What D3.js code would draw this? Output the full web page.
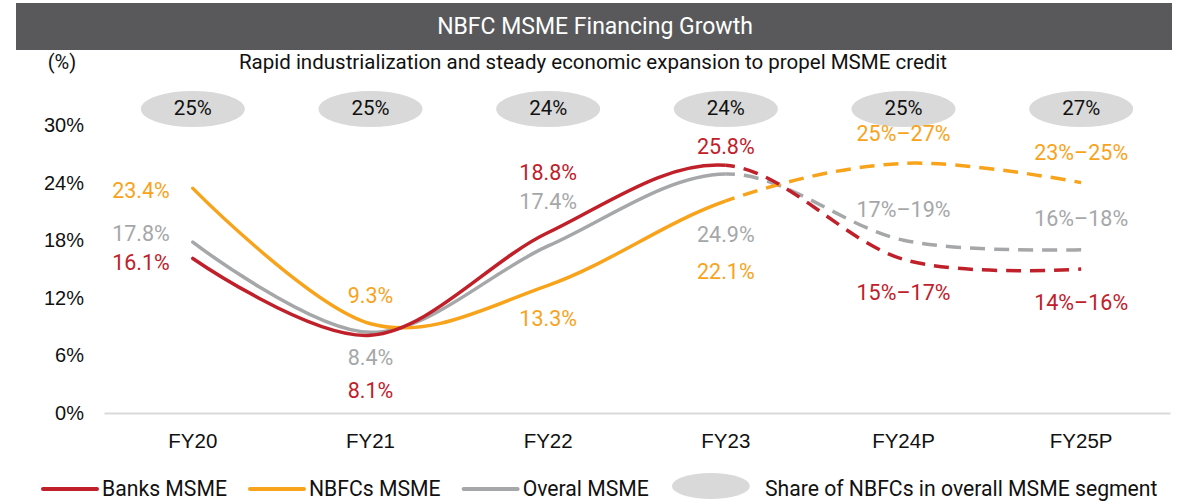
<!DOCTYPE html>
<html>
<head>
<meta charset="utf-8">
<script src="https://cdn.jsdelivr.net/npm/d3@7"></script>
<style>
  html, body { margin: 0; padding: 0; background: #fff; }
  svg { display: block; font-family: Roboto, "Noto Sans", sans-serif; }
</style>
</head>
<body>
<svg id="chart" width="1178" height="504"></svg>
<script>
// data
const years = ['FY20', 'FY21', 'FY22', 'FY23', 'FY24P', 'FY25P'];
const banks = [16.1, 8.1, 18.8, 25.8, 16, 15];
const nbfcs = [23.4, 9.3, 13.3, 22.1, 26, 24];
const overall = [17.8, 8.4, 17.4, 24.9, 18, 17];
const nbfcShare = ['25%', '25%', '24%', '24%', '25%', '27%'];
const banksLabels = ['16.1%', '8.1%', '18.8%', '25.8%', '15%\u201317%', '14%\u201316%'];
const nbfcsLabels = ['23.4%', '9.3%', '13.3%', '22.1%', '25%\u201327%', '23%\u201325%'];
const overallLabels = ['17.8%', '8.4%', '17.4%', '24.9%', '17%\u201319%', '16%\u201318%'];
const yTicks = [0, 6, 12, 18, 24, 30];
const lastActual = 'FY23'; // projections after it

const svg = d3.select('#chart'),
  width = +svg.attr('width'),
  height = +svg.attr('height');

const colors = { banks: '#c0202a', nbfcs: '#f8a31c', overall: '#a6a7a9' };

const x = d3.scaleBand().domain(years).range([104, 1170]);
const y = d3.scaleLinear().domain([0, 30]).range([413, 125]);
const cx = d => x(d) + x.bandwidth() / 2;
const splitX = cx(lastActual);

// title bar
svg.append('rect')
  .attr('x', 16).attr('y', 3)
  .attr('width', 1156).attr('height', 47)
  .attr('fill', '#59595b');
svg.append('text')
  .attr('x', 595).attr('y', 26)
  .attr('text-anchor', 'middle').attr('dominant-baseline', 'central')
  .attr('fill', '#fff').style('font-size', '23px')
  .text('NBFC MSME Financing Growth');
svg.append('text')
  .attr('x', 593).attr('y', 62)
  .attr('text-anchor', 'middle').attr('dominant-baseline', 'central')
  .attr('fill', '#111').style('font-size', '20.5px')
  .text('Rapid industrialization and steady economic expansion to propel MSME credit');
svg.append('text')
  .attr('x', 62).attr('y', 62)
  .attr('text-anchor', 'middle').attr('dominant-baseline', 'central')
  .attr('fill', '#111').style('font-size', '20px')
  .text('(%)');

// y axis (labels only)
const yAxis = svg.append('g')
  .attr('transform', 'translate(84,0)')
  .call(d3.axisLeft(y).tickValues(yTicks).tickSize(0).tickPadding(0).tickFormat(d => d + '%'));
yAxis.select('.domain').remove();
yAxis.selectAll('text').style('font-size', '20px').attr('fill', '#111').attr('font-family', null);

// x axis
const xAxis = svg.append('g')
  .attr('transform', 'translate(0,413)')
  .call(d3.axisBottom(x).tickSize(0).tickPadding(20));
xAxis.select('.domain').attr('stroke', '#d9d9d9').attr('stroke-width', 2);
xAxis.selectAll('text').style('font-size', '20.5px').attr('fill', '#111').attr('font-family', null);

// share ellipses
const share = svg.append('g').selectAll('g')
  .data(years)
  .enter()
  .append('g')
  .attr('transform', d => `translate(${cx(d)},109)`);
share.append('ellipse').attr('rx', 52).attr('ry', 18).attr('fill', '#d9d9d9');
share.append('text')
  .attr('text-anchor', 'middle').attr('dominant-baseline', 'central')
  .attr('y', -1)
  .style('font-size', '20.5px').attr('fill', '#111')
  .text((d, i) => nbfcShare[i]);

// lines: one smooth curve per series, solid up to FY23, dashed after
const series = [
  { key: 'overall', values: overall, labels: overallLabels },
  { key: 'nbfcs', values: nbfcs, labels: nbfcsLabels },
  { key: 'banks', values: banks, labels: banksLabels }
];

const defs = svg.append('defs');
defs.append('clipPath').attr('id', 'clip-actual')
  .append('rect').attr('x', 0).attr('y', 0).attr('width', splitX).attr('height', height);
defs.append('clipPath').attr('id', 'clip-proj')
  .append('rect').attr('x', splitX).attr('y', 0).attr('width', width - splitX).attr('height', height);

const line = d3.line()
  .x(d => cx(d.year))
  .y(d => y(d.value))
  .curve(d3.curveCardinal.tension(0));

const lines = svg.append('g').attr('class', 'lines');
series.forEach(s => {
  const pts = years.map((yr, i) => ({ year: yr, value: s.values[i] }));
  lines.append('path')
    .datum(pts)
    .attr('d', line)
    .attr('clip-path', 'url(#clip-actual)')
    .attr('fill', 'none')
    .attr('stroke', colors[s.key])
    .attr('stroke-width', 3.5)
    .attr('stroke-linecap', 'round');
  const dashed = lines.append('path')
    .datum(pts)
    .attr('d', line)
    .attr('clip-path', 'url(#clip-proj)')
    .attr('fill', 'none')
    .attr('stroke', colors[s.key])
    .attr('stroke-width', 3.5)
    .attr('stroke-dasharray', '15,9');
  // start the dash pattern at FY23
  const node = dashed.node();
  let lo = 0, hi = node.getTotalLength();
  for (let k = 0; k < 30; k++) {
    const mid = (lo + hi) / 2;
    if (node.getPointAtLength(mid).x < splitX) lo = mid; else hi = mid;
  }
  dashed.attr('stroke-dashoffset', -lo + 6);
});

// data labels: offset from the point (dx, dy) and anchor
const labelLayout = {
  nbfcs:   [[-23, 2, 'end'], [0, -28, 'middle'], [0, 33, 'middle'], [0, 71, 'middle'], [0, -30, 'middle'], [0, -30, 'middle']],
  overall: [[-23, -9, 'end'], [0, 25, 'middle'], [0, -44, 'middle'], [0, 61, 'middle'], [0, -31, 'middle'], [0, -31, 'middle']],
  banks:   [[-23, 4, 'end'], [0, 55, 'middle'], [0, -60, 'middle'], [0, -19, 'middle'], [0, 33, 'middle'], [0, 33, 'middle']]
};
const labels = svg.append('g').attr('class', 'labels');
series.forEach(s => {
  labels.selectAll(null)
    .data(years)
    .enter()
    .append('text')
    .attr('x', (d, i) => cx(d) + labelLayout[s.key][i][0])
    .attr('y', (d, i) => y(s.values[i]) + labelLayout[s.key][i][1])
    .attr('text-anchor', (d, i) => labelLayout[s.key][i][2])
    .attr('dominant-baseline', 'central')
    .attr('fill', colors[s.key])
    .style('font-size', '21.5px')
    .text((d, i) => s.labels[i]);
});

// legend
const legendItems = [
  { type: 'line', color: colors.banks, text: 'Banks MSME' },
  { type: 'line', color: colors.nbfcs, text: 'NBFCs MSME' },
  { type: 'line', color: colors.overall, text: 'Overal MSME' },
  { type: 'ellipse', color: '#d9d9d9', text: 'Share of NBFCs in overall MSME segment' }
];
const legend = svg.append('g').attr('class', 'legend').attr('transform', 'translate(0,488)');
let lx = 43;
legendItems.forEach(item => {
  let tx;
  if (item.type === 'line') {
    legend.append('line')
      .attr('x1', lx).attr('x2', lx + 54)
      .attr('y1', 1).attr('y2', 1)
      .attr('stroke', item.color).attr('stroke-width', 4).attr('stroke-linecap', 'round');
    tx = lx + 59;
  } else {
    legend.append('ellipse')
      .attr('cx', lx + 39).attr('cy', -2)
      .attr('rx', 39).attr('ry', 13)
      .attr('fill', item.color);
    tx = lx + 93;
  }
  const t = legend.append('text')
    .attr('x', tx).attr('y', 0)
    .attr('dominant-baseline', 'central')
    .attr('fill', '#111').style('font-size', '21.2px')
    .text(item.text);
  lx = tx + t.node().getComputedTextLength() + 23;
});
</script>
</body>
</html>
